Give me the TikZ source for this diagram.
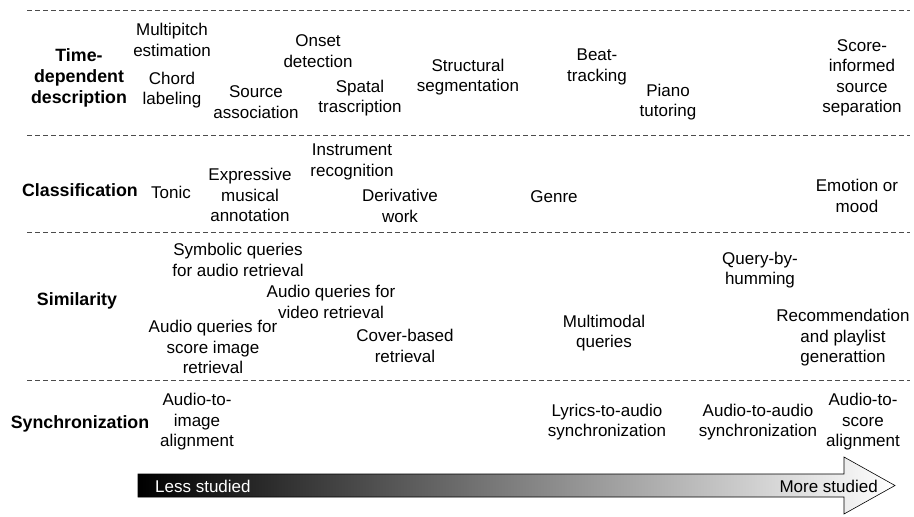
\documentclass[tikz,border=0pt]{standalone}
\usepackage{fontspec}
\setmainfont{Liberation Sans}
\usepackage{tikz}
\usetikzlibrary{
    calc,
    positioning
}

\begin{document}
\begin{tikzpicture}[x=1pt,y=-1pt,
		task/.style={align=center,inner sep=0pt,font=\fontsize{17}{20.5}\selectfont},
		area/.style={align=center,inner sep=0pt,font=\fontsize{17.8}{21}\selectfont\bfseries},
		sep/.style={draw=black!70,line width=0.8pt,dash pattern=on 5pt off 3pt}]
				\useasboundingbox (0,0) rectangle (914,517);
				% separators between the four bands
				\foreach \y in {10,135,232,380}
					\draw[sep] (27,\y) -- (910,\y);
				% band names
				\node at (79,78) [area] (timedep) {Time-\\dependent\\description};
				\node at (80,190) [area] (classif) {Classification};
				\node at (77,301) [area] (simil) {Similarity};
				\node at (80,424) [area] (synchro) {Synchronization};
				% time-dependent description
				\node at (172,40) [task] (multipitch) {Multipitch\\estimation};
				\node at (172,90) [task] (chord) {Chord\\labeling};
				\node at (256,102) [task] (source) {Source\\association};
				\node at (318,51) [task] (onset) {Onset\\detection};
				\node at (360,98) [task] (spatal) {Spatal\\trascription};
				\node at (468,77) [task] (structural) {Structural\\segmentation};
				\node at (597,67) [task] (beat) {Beat-\\tracking};
				\node at (668,102) [task] (piano) {Piano\\tutoring};
				\node at (862,78) [task] (scoreinf) {Score-\\informed\\source\\separation};
				% classification
				\node at (171,192) [task] (tonic) {Tonic};
				\node at (250,195) [task] (expressive) {Expressive\\musical\\annotation};
				\node at (352,162) [task] (instrument) {Instrument\\recognition};
				\node at (400,206) [task] (derivative) {Derivative\\work};
				\node at (554,197) [task] (genre) {Genre};
				\node at (857,196) [task] (emotion) {Emotion or\\mood};
				% similarity
				\node at (238,260) [task] (symbolic) {Symbolic queries\\for audio retrieval};
				\node at (331,302) [task] (videoq) {Audio queries for\\video retrieval};
				\node at (213,347) [task] (scoreq) {Audio queries for\\score image\\retrieval};
				\node at (405,346) [task] (cover) {Cover-based\\retrieval};
				\node at (604,333) [task] (multimodal) {Multimodal\\queries};
				\node at (760,270) [task] (humming) {Query-by-\\humming};
				\node at (843,338) [task] (recommend) {Recommendation\\and playlist\\generattion};
				% synchronization
				\node at (197,422) [task] (audioimage) {Audio-to-\\image\\alignment};
				\node at (607,422) [task] (lyrics) {Lyrics-to-audio\\synchronization};
				\node at (758,422) [task] (audioaudio) {Audio-to-audio\\synchronization};
				\node at (863,422) [task] (audioscore) {Audio-to-\\score\\alignment};
				% how much each task has been studied
				\shade[left color=black,right color=white,draw=black,line width=0.6pt]
					(138,474) -- (844,474) -- (844,457) -- (895,485.5) -- (844,514) -- (844,497) -- (138,497) -- cycle;
				\node at (155,486) [task,anchor=west,text=white] (less) {Less studied};
				\node at (878,486) [task,anchor=east] (more) {More studied};
			\end{tikzpicture}
\end{document}
